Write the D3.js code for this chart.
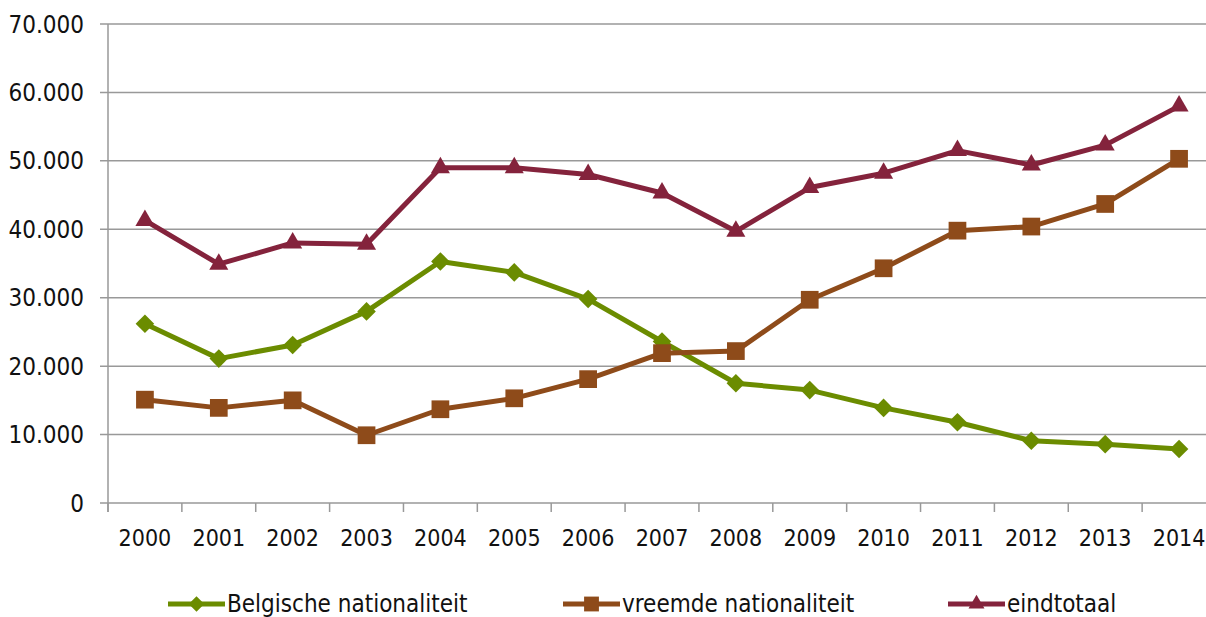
<!DOCTYPE html>
<html>
<head>
<meta charset="utf-8">
<script src="https://cdn.jsdelivr.net/npm/d3@7"></script>
<style>
    body { margin: 0; background: #fff; }
    svg { display: block; }
</style>
</head>
<body>
<div id="chart"></div>
<script>
// data
const years = ["2000", "2001", "2002", "2003", "2004", "2005", "2006", "2007",
    "2008", "2009", "2010", "2011", "2012", "2013", "2014"];
const belgisch = [26200, 21100, 23100, 28000, 35300, 33700, 29800, 23600,
    17500, 16500, 13900, 11800, 9100, 8600, 7900];
const vreemd = [15100, 13900, 15000, 9900, 13700, 15300, 18100, 21900,
    22200, 29700, 34300, 39800, 40400, 43700, 50300];
const totaal = [41300, 34900, 38000, 37800, 49000, 49000, 48000, 45300,
    39700, 46100, 48200, 51500, 49400, 52300, 58000];
const seriesNames = ["Belgische nationaliteit", "vreemde nationaliteit", "eindtotaal"];
const yTicks = [0, 10000, 20000, 30000, 40000, 50000, 60000, 70000];

class LineChart {
    constructor(_config) {
        this.config = _config;
        this.InitVis();
    }

    InitVis() {
        const vis = this;

        vis.config.width = 1206;
        vis.config.height = 617;
        // plot runs past the right edge, as in the original
        vis.config.plot = {left: 108, right: 1216, top: 24, bottom: 503};
        vis.config.font = "'DejaVu Sans Condensed', 'DejaVu Sans', sans-serif";

        vis.svg = d3.select(vis.config.parentElement)
            .append("svg")
            .attr("width", vis.config.width)
            .attr("height", vis.config.height);

        vis.x = d3.scaleBand()
            .domain(years)
            .range([vis.config.plot.left, vis.config.plot.right]);

        vis.y = d3.scaleLinear()
            .domain([0, 70000])
            .range([vis.config.plot.bottom, vis.config.plot.top]);

        vis.UpdateVis();
    }

    UpdateVis() {
        const vis = this;
        const p = vis.config.plot;
        const fmt = d => d3.format(",")(d).replace(/,/g, ".");

        // horizontal grid
        vis.svg.append("g")
            .selectAll("line")
            .data(yTicks)
            .join("line")
            .attr("x1", p.left - 8)
            .attr("x2", vis.config.width)
            .attr("y1", d => vis.y(d))
            .attr("y2", d => vis.y(d))
            .attr("stroke", "#999")
            .attr("stroke-width", 1.5);

        // y axis line
        vis.svg.append("line")
            .attr("x1", p.left).attr("x2", p.left)
            .attr("y1", p.top).attr("y2", p.bottom + 9)
            .attr("stroke", "#999")
            .attr("stroke-width", 1.5);

        // x axis ticks at category boundaries
        vis.svg.append("g")
            .selectAll("line")
            .data(years)
            .join("line")
            .attr("x1", d => vis.x(d))
            .attr("x2", d => vis.x(d))
            .attr("y1", p.bottom)
            .attr("y2", p.bottom + 9)
            .attr("stroke", "#999")
            .attr("stroke-width", 1.5);

        vis.svg.append("g")
            .selectAll("text")
            .data(yTicks)
            .join("text")
            .attr("x", 84)
            .attr("y", d => vis.y(d))
            .attr("dy", "0.36em")
            .attr("text-anchor", "end")
            .attr("font-family", vis.config.font)
            .attr("font-size", "24px")
            .attr("fill", "#111")
            .text(fmt);

        vis.svg.append("g")
            .selectAll("text")
            .data(years)
            .join("text")
            .attr("x", d => vis.x(d) + vis.x.bandwidth() / 2)
            .attr("y", 546)
            .attr("text-anchor", "middle")
            .attr("font-family", vis.config.font)
            .attr("font-size", "23px")
            .attr("fill", "#111")
            .text(d => d);

        const series = [
            {name: seriesNames[0], values: belgisch, color: "#6b8c00", symbol: d3.symbolDiamond2, size: 220},
            {name: seriesNames[1], values: vreemd, color: "#8e4b1a", symbol: d3.symbolSquare2, size: 400},
            {name: seriesNames[2], values: totaal, color: "#84233c", symbol: d3.symbolTriangle2, size: 260}
        ];

        const line = d3.line()
            .x((d, i) => vis.x(years[i]) + vis.x.bandwidth() / 2)
            .y(d => vis.y(d));

        series.forEach(s => {
            const g = vis.svg.append("g");
            g.append("path")
                .attr("d", line(s.values))
                .attr("fill", "none")
                .attr("stroke", s.color)
                .attr("stroke-width", 5)
                .attr("stroke-linejoin", "round");

            g.selectAll("path.m")
                .data(s.values)
                .join("path")
                .attr("class", "m")
                .attr("transform", (d, i) => `translate(${vis.x(years[i]) + vis.x.bandwidth() / 2},${vis.y(d)})`)
                .attr("d", d3.symbol(s.symbol, s.size))
                .attr("fill", s.color);
        });

        // legend
        const legendX = [168, 563, 948];
        const legendY = 604;
        const legend = vis.svg.append("g")
            .selectAll("g")
            .data(series)
            .join("g")
            .attr("transform", (d, i) => `translate(${legendX[i]},${legendY})`);

        legend.append("line")
            .attr("x1", 0).attr("x2", 57)
            .attr("stroke", d => d.color)
            .attr("stroke-width", 5);

        legend.append("path")
            .attr("transform", "translate(28.5,0)")
            .attr("d", d => d3.symbol(d.symbol, d.size * 0.7)())
            .attr("fill", d => d.color);

        legend.append("text")
            .attr("x", 59)
            .attr("y", 8)
            .attr("font-family", vis.config.font)
            .attr("font-size", "24px")
            .attr("fill", "#111")
            .text(d => d.name);
    }
}

new LineChart({parentElement: "#chart"});
</script>
</body>
</html>
